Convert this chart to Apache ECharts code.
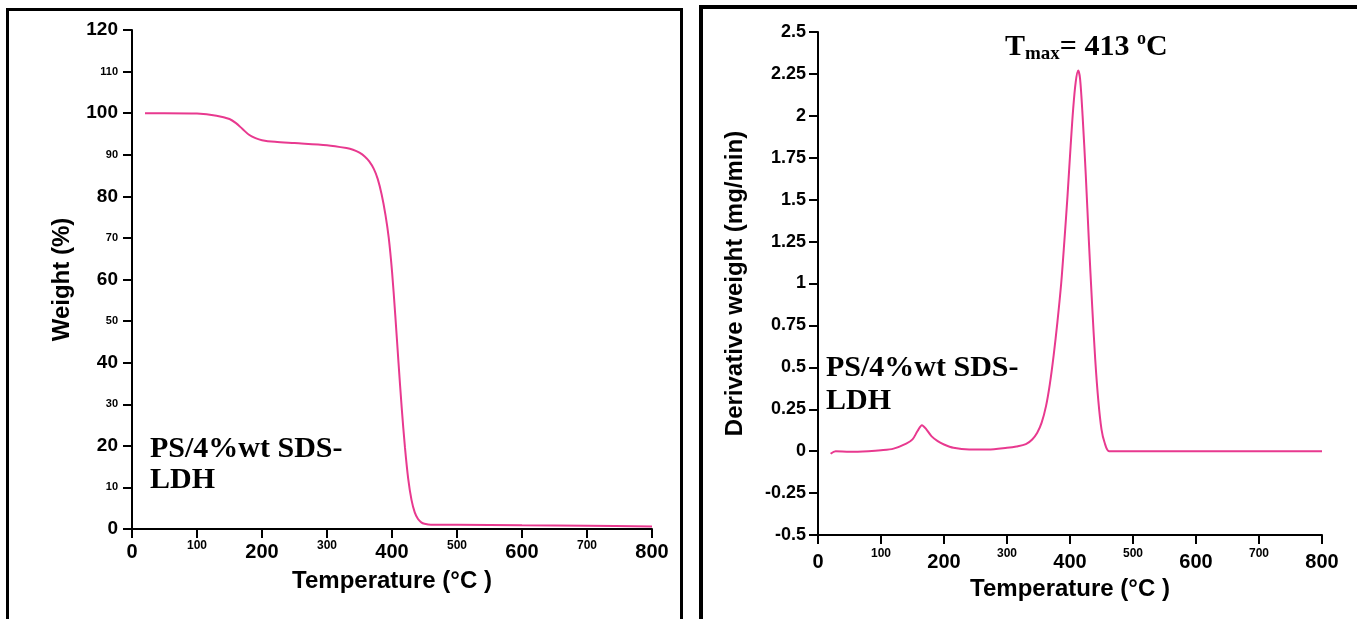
<!DOCTYPE html>
<html>
<head>
<meta charset="utf-8">
<script src="https://cdn.jsdelivr.net/npm/echarts@6/dist/echarts.min.js"></script>
<style>
html,body{margin:0;padding:0;background:#fff;}
#chart{position:absolute;left:0;top:0;width:1357px;height:619px;}
.frame{position:absolute;pointer-events:none;box-sizing:border-box;}
#f1{left:6px;top:8px;width:677px;height:700px;border:3px solid #000;}
#f2{left:699px;top:5px;width:800px;height:700px;border:4px solid #000;}
</style>
</head>
<body>
<div id="chart"></div>
<div id="f1" class="frame"></div>
<div id="f2" class="frame"></div>
<script>
// ---- data ----
const tgaTemp   = [20,50,100,130,150,160,170,180,190,200,220,250,300,330,340,350,358,365,372,378,384,390,395,400,405,410,415,420,425,430,435,440,445,450,460,500,600,700,800];
const tgaWeight = [100,100,99.9,99.4,98.6,97.6,96.2,94.8,94.0,93.5,93.1,92.8,92.3,91.6,91.2,90.5,89.6,88.4,86.6,84.2,80.5,75.5,70,62,51.5,40,29,19.5,12,7,4,2.4,1.6,1.25,1.0,1.0,0.9,0.8,0.6];

const dtgTemp  = [20,28,50,80,100,120,140,150,158,165,172,180,190,200,215,240,270,300,315,330,340,348,355,362,368,374,380,386,391,396,401,405,409,413,416,420,425,430,435,440,445,450,455,462,500,600,700,800];
const dtgValue = [-0.015,0,-0.003,0,0.005,0.015,0.045,0.07,0.12,0.155,0.13,0.09,0.06,0.04,0.02,0.01,0.01,0.02,0.028,0.042,0.07,0.11,0.17,0.27,0.4,0.57,0.77,1.0,1.25,1.52,1.82,2.04,2.2,2.27,2.22,2.0,1.65,1.25,0.88,0.55,0.3,0.13,0.05,0,0,0,0,0];

const bigTempLabels   = [0,200,400,600,800];
const bigWeightLabels = [0,20,40,60,80,100,120];
const sampleLabel = 'PS/4%wt SDS-\nLDH';
const tmaxValue = 413;

// ---- chart ----
const lineColor = '#e8398f';
const sans = '"Liberation Sans", Arial, sans-serif';
const serif = '"Liberation Serif", "Times New Roman", serif';

function pairs(xs, ys){ return xs.map((x,i)=>[x, ys[i]]); }

const axisLineStyle = {show:true, onZero:false, lineStyle:{color:'#000', width:2}};
const tickStyle = {show:true, inside:false, length:9, lineStyle:{color:'#000', width:2}};
const nameStyle = {fontFamily:sans, fontWeight:'bold', fontSize:24, color:'#000'};

function xAxisFor(gridIndex, nameGap, margin, bigDrop){
  return {
    type:'value', gridIndex, min:0, max:800, interval:100,
    axisLine: axisLineStyle, axisTick: tickStyle, splitLine:{show:false},
    axisLabel:{
      margin,
      formatter: v => bigTempLabels.includes(v) ? '{a|'+v+'}' : '{b|'+v+'}',
      rich:{
        a:{fontFamily:sans, fontWeight:'bold', fontSize:20, color:'#000', padding:[bigDrop,0,0,0]},
        b:{fontFamily:sans, fontWeight:'bold', fontSize:12, color:'#000'}
      }
    },
    name:'Temperature (°C )', nameLocation:'middle', nameGap,
    nameTextStyle: nameStyle
  };
}

const option = {
  animation:false,
  backgroundColor:'#fff',
  grid:[
    {left:132, top:30, width:520, height:499},
    {left:818, top:32, width:504, height:503}
  ],
  xAxis:[ xAxisFor(0, 40, 11, 2), xAxisFor(1, 42, 13, 4) ],
  yAxis:[
    {
      type:'value', gridIndex:0, min:0, max:120, interval:10,
      axisLine: axisLineStyle, axisTick: tickStyle, splitLine:{show:false},
      axisLabel:{
        margin:14,
        formatter: v => bigWeightLabels.includes(v) ? '{a|'+v+'}' : '{b|'+v+'}',
        rich:{
          a:{fontFamily:sans, fontWeight:'bold', fontSize:19, color:'#000'},
          b:{fontFamily:sans, fontWeight:'bold', fontSize:11, color:'#000'}
        }
      },
      name:'Weight (%)', nameLocation:'middle', nameGap:58,
      nameTextStyle: nameStyle
    },
    {
      type:'value', gridIndex:1, min:-0.5, max:2.5, interval:0.25,
      axisLine: axisLineStyle, axisTick: tickStyle, splitLine:{show:false},
      axisLabel:{
        margin:12,
        fontFamily:sans, fontWeight:'bold', fontSize:18, color:'#000',
        formatter: v => String(parseFloat(v.toFixed(2)))
      },
      name:'Derivative weight (mg/min)', nameLocation:'middle', nameGap:71,
      nameTextStyle: nameStyle
    }
  ],
  series:[
    {
      type:'line', xAxisIndex:0, yAxisIndex:0, data:pairs(tgaTemp, tgaWeight),
      showSymbol:false, smooth:0.3, lineStyle:{color:lineColor, width:2}
    },
    {
      type:'line', xAxisIndex:1, yAxisIndex:1, data:pairs(dtgTemp, dtgValue),
      showSymbol:false, smooth:0.3, lineStyle:{color:lineColor, width:2}
    }
  ],
  graphic:[
    {type:'text', left:150, top:434, style:{text:sampleLabel, font:'bold 30px '+serif, fill:'#000', lineHeight:31}},
    {type:'text', left:826, top:352, style:{text:sampleLabel, font:'bold 30px '+serif, fill:'#000', lineHeight:33}},
    {type:'text', left:1005, top:30, style:{
      text:'{a|T}{s|max}{a|= '+tmaxValue+' }{p|o}{a|C}',
      rich:{
        a:{fontFamily:serif, fontWeight:'bold', fontSize:30, lineHeight:34, color:'#000'},
        s:{fontFamily:serif, fontWeight:'bold', fontSize:19, lineHeight:19, verticalAlign:'bottom', color:'#000'},
        p:{fontFamily:serif, fontWeight:'bold', fontSize:18, lineHeight:18, verticalAlign:'top', color:'#000'}
      }
    }}
  ]
};

const chart = echarts.init(document.getElementById('chart'), null, {renderer:'canvas'});
chart.setOption(option);
</script>
</body>
</html>
